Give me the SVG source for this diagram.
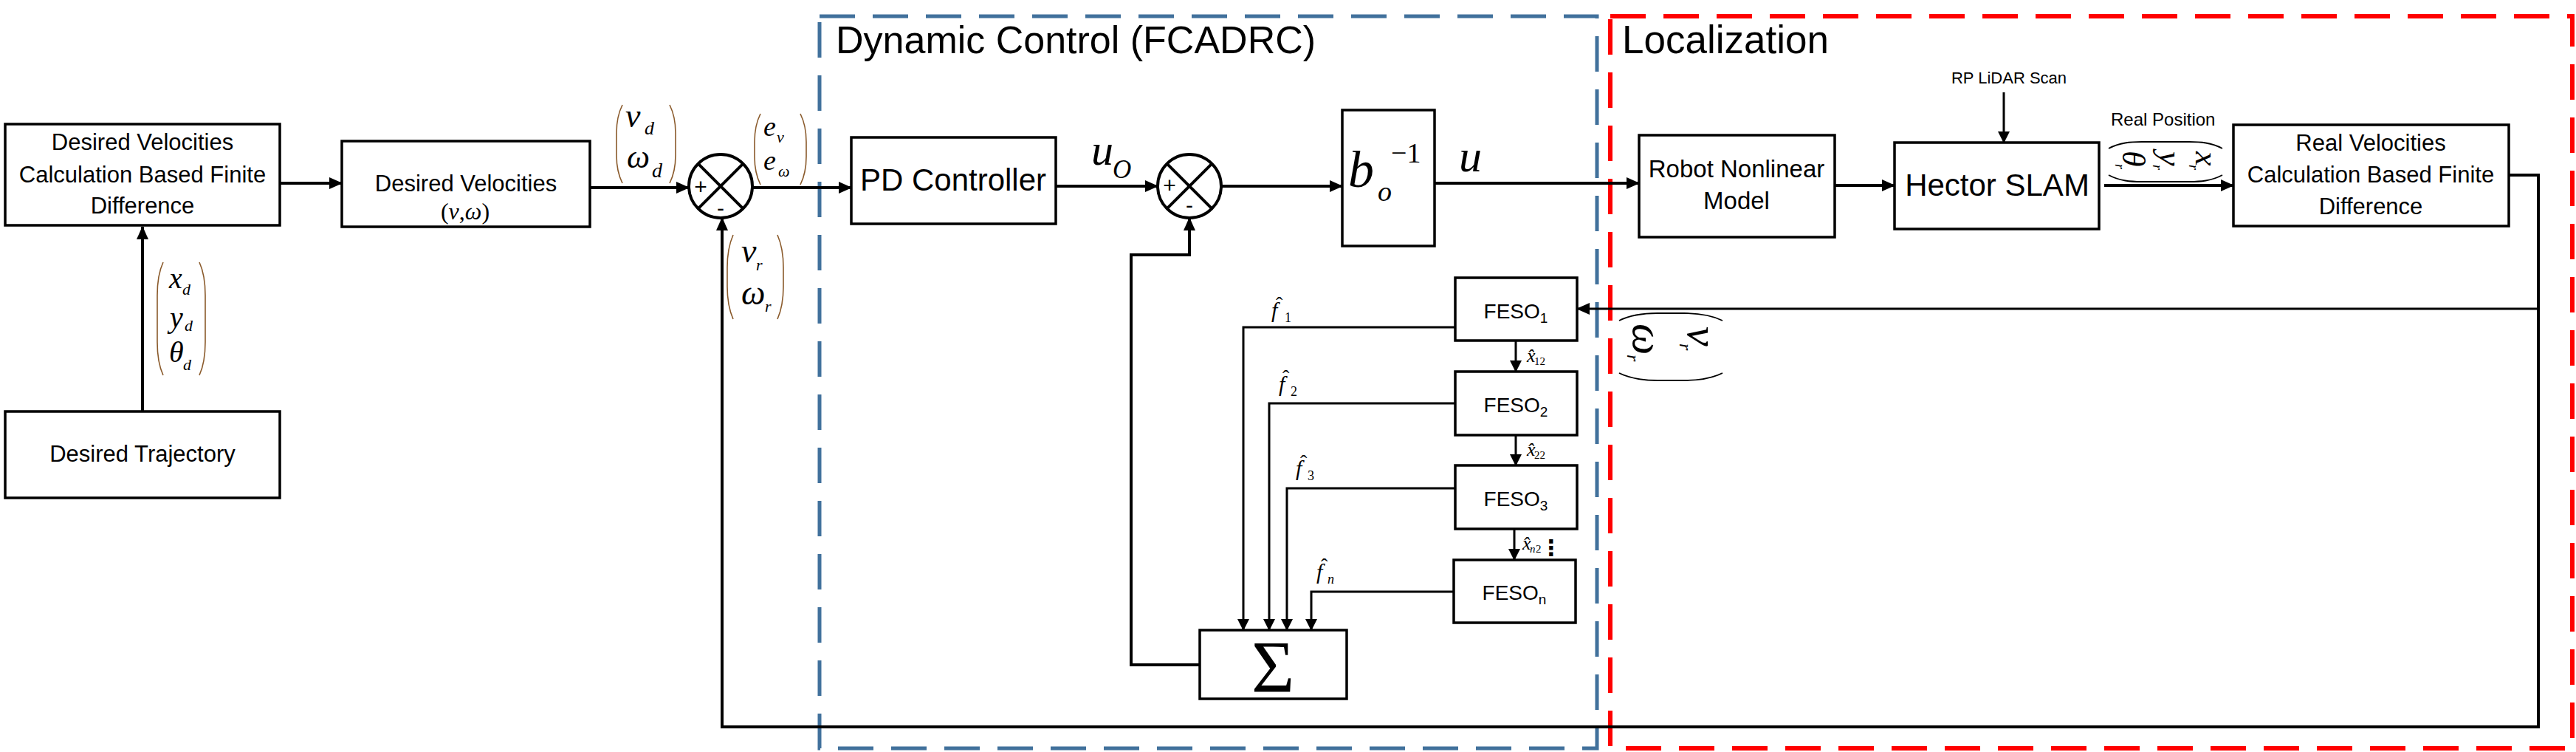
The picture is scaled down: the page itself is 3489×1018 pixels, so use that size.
<svg xmlns="http://www.w3.org/2000/svg" width="3489" height="1018" viewBox="0 0 3489 1018">
<style>
.box{fill:#fff;stroke:#000;stroke-width:3.5}
.ln{fill:none;stroke:#000;stroke-width:4}
.ln3{fill:none;stroke:#000;stroke-width:3}
.t{font-family:"Liberation Sans",Arial,sans-serif;fill:#000}
.m{font-family:"Liberation Serif","Times New Roman",serif;font-style:italic;fill:#000}
.r{font-family:"Liberation Serif","Times New Roman",serif;fill:#000}
.par{fill:none;stroke:#8a5a2b;stroke-width:1.6}
.parb{fill:none;stroke:#000;stroke-width:1.8}
.blue{fill:none;stroke:#41719C;stroke-width:5;stroke-dasharray:48 24}
.red{fill:none;stroke:#FF0000;stroke-width:6;stroke-dasharray:48 24}
</style>
<defs>
<marker id="ah" markerUnits="userSpaceOnUse" markerWidth="18" markerHeight="16" refX="17" refY="8" orient="auto"><path d="M0,0 L18,8 L0,16 z" fill="#000"/></marker>
<marker id="ah2" markerUnits="userSpaceOnUse" markerWidth="16" markerHeight="16" refX="15" refY="8" orient="auto"><path d="M0,0 L16,8 L0,16 z" fill="#000"/></marker>
</defs>
<rect width="3489" height="1018" fill="#fff"/>

<g id="regions">
<rect class="blue" x="1110" y="22" width="1053" height="991"/>
<rect class="red" x="2181" y="22" width="1303" height="991"/>
<text class="t" x="1132" y="72" font-size="52">Dynamic Control (FCADRC)</text>
<text class="t" x="2197" y="72" font-size="53">Localization</text>
</g>

<g id="connectors">
<path class="ln" d="M193,557 V307" marker-end="url(#ah)"/>
<path class="ln" d="M379,248 H463" marker-end="url(#ah)"/>
<path class="ln" d="M799,254 H933" marker-end="url(#ah)"/>
<path class="ln" d="M1019,254 H1153" marker-end="url(#ah)"/>
<path class="ln" d="M1430,252 H1568" marker-end="url(#ah)"/>
<path class="ln" d="M1654,252 H1818" marker-end="url(#ah)"/>
<path class="ln" d="M1943,248 H2220" marker-end="url(#ah)"/>
<path class="ln" d="M2485,251 H2566" marker-end="url(#ah)"/>
<path class="ln3" d="M2714,125 V193" marker-end="url(#ah2)"/>
<path class="ln" d="M2850,251 H3025" marker-end="url(#ah)"/>
<path class="ln" d="M3398,237 H3438 V984 H978 V295" marker-end="url(#ah)"/>
<path class="ln3" d="M3438,418 H2136" marker-end="url(#ah)"/>
<path class="ln" d="M1625,900 H1532 V345 H1611 V295" marker-end="url(#ah)"/>
<path class="ln3" d="M1971,443 H1684 V853" marker-end="url(#ah2)"/>
<path class="ln3" d="M1971,546 H1719 V853" marker-end="url(#ah2)"/>
<path class="ln3" d="M1971,661 H1743 V853" marker-end="url(#ah2)"/>
<path class="ln3" d="M1969,801 H1776 V853" marker-end="url(#ah2)"/>
<path class="ln3" d="M2053,461 V503" marker-end="url(#ah2)"/>
<path class="ln3" d="M2053,589 V630" marker-end="url(#ah2)"/>
<path class="ln3" d="M2051,716 V758" marker-end="url(#ah2)"/>
</g>

<g id="labels">
<path class="par" d="M221,355 C214,370 213,385 213,400 L213,463 C213,478 214,493 221,508"/>
<path class="par" d="M270,355 C277,370 278,385 278,400 L278,463 C278,478 277,493 270,508"/>
<text class="m" x="229" y="390" font-size="40">x</text><text class="m" x="247" y="399" font-size="22">d</text>
<text class="m" x="230" y="443" font-size="40">y</text><text class="m" x="250" y="448" font-size="22">d</text>
<text class="m" x="229" y="490" font-size="40">θ</text><text class="m" x="248" y="501" font-size="22">d</text>
<path class="par" d="M843,142 C836,156 835,168 835,180 L835,210 C835,222 836,234 843,248"/>
<path class="par" d="M907,142 C914,156 915,168 915,180 L915,210 C915,222 914,234 907,248"/>
<text class="m" x="847" y="172" font-size="46">v</text><text class="m" x="873" y="182" font-size="26">d</text>
<text class="m" x="849" y="227" font-size="44">ω</text><text class="m" x="883" y="240" font-size="28">d</text>
<path class="par" d="M1030,154 C1023,168 1022,180 1022,192 L1022,212 C1022,224 1023,236 1030,250"/>
<path class="par" d="M1084,154 C1091,168 1092,180 1092,192 L1092,212 C1092,224 1091,236 1084,250"/>
<text class="m" x="1034" y="184" font-size="38">e</text><text class="m" x="1052" y="193" font-size="22">v</text>
<text class="m" x="1034" y="230" font-size="38">e</text><text class="m" x="1054" y="239" font-size="22">ω</text>
<path class="par" d="M993,318 C986,334 985,348 985,362 L985,388 C985,402 986,416 993,432"/>
<path class="par" d="M1053,318 C1060,334 1061,348 1061,362 L1061,388 C1061,402 1060,416 1053,432"/>
<text class="m" x="1004" y="355" font-size="46">v</text><text class="m" x="1024" y="366" font-size="22">r</text>
<text class="m" x="1004" y="412" font-size="46">ω</text><text class="m" x="1036" y="422" font-size="22">r</text>
<text class="m" x="1478" y="223" font-size="60">u</text><text class="m" x="1507" y="241" font-size="35">O</text>
<text class="m" x="1976" y="232" font-size="62">u</text>
<text class="t" x="2859" y="170" font-size="24">Real Position</text>
<g transform="translate(3010,190) rotate(90)">
<path class="parb" d="M11,0 C3,15 2,30 2,45 L2,109 C2,124 3,139 11,154"/>
<path class="parb" d="M47,0 C55,15 56,30 56,45 L56,109 C56,124 55,139 47,154"/>
<text class="m" x="15" y="36" font-size="44">x</text><text class="m" x="33" y="45" font-size="18">r</text>
<text class="m" x="15" y="85" font-size="44">y</text><text class="m" x="33" y="94" font-size="18">r</text>
<text class="m" x="14" y="135" font-size="44">θ</text><text class="m" x="32" y="145" font-size="18">r</text>
</g>
<text class="t" x="2721" y="113" font-size="22" text-anchor="middle">RP LiDAR Scan</text>
<g transform="translate(2333,422) rotate(90)">
<path class="parb" d="M12,0 C3,18 2,36 2,52 L2,88 C2,104 3,122 12,140"/>
<path class="parb" d="M83,0 C92,18 93,36 93,52 L93,88 C93,104 92,122 83,140"/>
<text class="m" x="20" y="47" font-size="60">v</text><text class="m" x="43" y="58" font-size="24">r</text>
<text class="m" x="16" y="121" font-size="60">ω</text><text class="m" x="58" y="129" font-size="24">r</text>
</g>
<text class="r" x="1728" y="421" font-size="28">ˆ</text><text class="m" x="1722" y="430" font-size="30">f</text><text class="r" x="1740" y="436" font-size="18">1</text>
<text class="r" x="1737" y="520" font-size="28">ˆ</text><text class="m" x="1732" y="530" font-size="30">f</text><text class="r" x="1748" y="536" font-size="18">2</text>
<text class="r" x="1761" y="635" font-size="28">ˆ</text><text class="m" x="1755" y="644" font-size="30">f</text><text class="r" x="1771" y="650" font-size="18">3</text>
<text class="r" x="1789" y="775" font-size="28">ˆ</text><text class="m" x="1783" y="784" font-size="30">f</text><text class="m" x="1798" y="790" font-size="18">n</text>
<text class="m" x="2068" y="490" font-size="26">x̂</text><text class="r" x="2078" y="494" font-size="15">12</text>
<text class="m" x="2068" y="617" font-size="26">x̂</text><text class="r" x="2078" y="621" font-size="15">22</text>
<text class="m" x="2062" y="744" font-size="26">x̂</text><text class="m" x="2072" y="748" font-size="15">n</text><text class="r" x="2080" y="748" font-size="15">2</text>
<text x="2101" y="752" font-size="30" font-weight="bold" font-family="DejaVu Sans,sans-serif" text-anchor="middle">⋮</text>
</g>

<g id="desired-vel-calc">
<rect class="box" x="7" y="168" width="372" height="137"/>
<text class="t" x="193" y="203" font-size="31" text-anchor="middle">Desired Velocities</text>
<text class="t" x="193" y="247" font-size="31" text-anchor="middle">Calculation Based Finite</text>
<text class="t" x="193" y="289" font-size="31" text-anchor="middle">Difference</text>
</g>
<g id="desired-trajectory">
<rect class="box" x="7" y="557" width="372" height="117"/>
<text class="t" x="193" y="625" font-size="31" text-anchor="middle">Desired Trajectory</text>
</g>
<g id="desired-velocities">
<rect class="box" x="463" y="191" width="336" height="116"/>
<text class="t" x="631" y="259" font-size="31" text-anchor="middle">Desired Velocities</text>
<text class="r" x="630" y="297" font-size="32" text-anchor="middle" fill="#3d2b1f">(<tspan font-style="italic">v</tspan>,<tspan font-style="italic">ω</tspan>)</text>
</g>
<g id="sum1">
<circle cx="976" cy="252" r="43" fill="#fff" stroke="#000" stroke-width="4"/>
<path class="ln" d="M945.6,221.6 L1006.4,282.4 M1006.4,221.6 L945.6,282.4"/>
<text class="t" x="949" y="263" font-size="30" text-anchor="middle">+</text>
<text class="t" x="976" y="292" font-size="30" text-anchor="middle">-</text>
</g>
<g id="pd-controller">
<rect class="box" x="1153" y="186" width="277" height="117"/>
<text class="t" x="1291" y="258" font-size="42" text-anchor="middle">PD Controller</text>
</g>
<g id="sum2">
<circle cx="1611" cy="252" r="43" fill="#fff" stroke="#000" stroke-width="4"/>
<path class="ln" d="M1580.6,221.6 L1641.4,282.4 M1641.4,221.6 L1580.6,282.4"/>
<text class="t" x="1584" y="261" font-size="30" text-anchor="middle">+</text>
<text class="t" x="1611" y="288" font-size="30" text-anchor="middle">-</text>
</g>
<g id="b-inverse">
<rect class="box" x="1818" y="149" width="125" height="184"/>
<text class="m" x="1826" y="253" font-size="70">b</text>
<text class="m" x="1866" y="272" font-size="38">o</text>
<text class="r" x="1884" y="220" font-size="38">−1</text>
</g>
<g id="feso1">
<rect class="box" x="1971" y="376" width="165" height="85"/>
<text class="t" x="2053" y="431" font-size="28" text-anchor="middle">FESO<tspan font-size="19" dy="6">1</tspan></text>
</g>
<g id="feso2">
<rect class="box" x="1971" y="503" width="165" height="86"/>
<text class="t" x="2053" y="558" font-size="28" text-anchor="middle">FESO<tspan font-size="19" dy="6">2</tspan></text>
</g>
<g id="feso3">
<rect class="box" x="1971" y="630" width="165" height="86"/>
<text class="t" x="2053" y="685" font-size="28" text-anchor="middle">FESO<tspan font-size="19" dy="6">3</tspan></text>
</g>
<g id="feson">
<rect class="box" x="1969" y="758" width="165" height="85"/>
<text class="t" x="2051" y="812" font-size="28" text-anchor="middle">FESO<tspan font-size="19" dy="6">n</tspan></text>
</g>
<g id="sigma">
<rect class="box" x="1625" y="853" width="199" height="93"/>
<text class="r" x="1724" y="936" font-size="100" text-anchor="middle">Σ</text>
</g>
<g id="robot-model">
<rect class="box" x="2220" y="183" width="265" height="138"/>
<text class="t" x="2352" y="240" font-size="33" text-anchor="middle">Robot Nonlinear</text>
<text class="t" x="2352" y="283" font-size="33" text-anchor="middle">Model</text>
</g>
<g id="hector-slam">
<rect class="box" x="2566" y="193" width="277" height="117"/>
<text class="t" x="2705" y="265" font-size="42" text-anchor="middle">Hector SLAM</text>
</g>
<g id="real-vel-calc">
<rect class="box" x="3025" y="169" width="373" height="137"/>
<text class="t" x="3211" y="204" font-size="31" text-anchor="middle">Real Velocities</text>
<text class="t" x="3211" y="247" font-size="31" text-anchor="middle">Calculation Based Finite</text>
<text class="t" x="3211" y="290" font-size="31" text-anchor="middle">Difference</text>
</g>
</svg>
